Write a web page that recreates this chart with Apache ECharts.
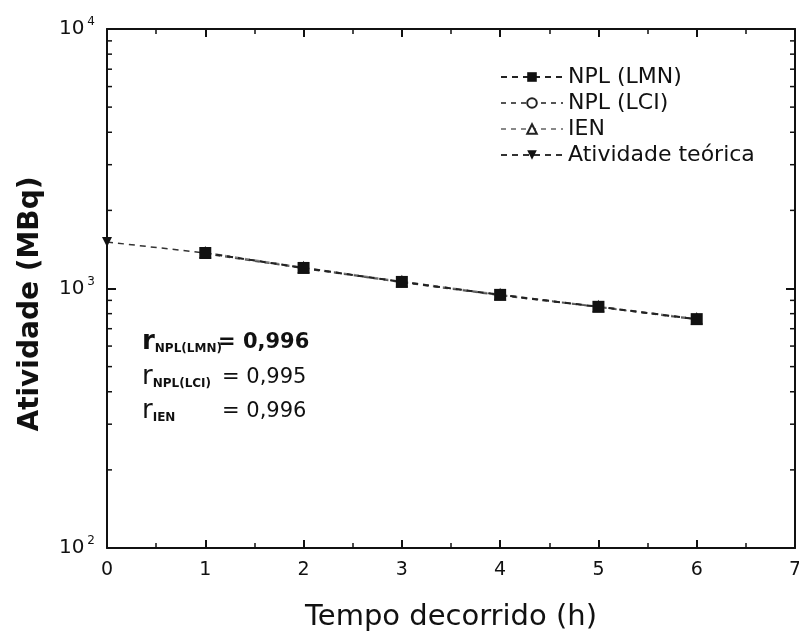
<!DOCTYPE html>
<html><head><meta charset="utf-8">
<script src="https://cdn.jsdelivr.net/npm/echarts@6/dist/echarts.min.js"></script>
<style>html,body{margin:0;padding:0;background:#fff}#c{width:799px;height:635px}</style>
</head><body><div id="c"></div>
<script>
// Data
const hoursMeasured = [1, 2, 3, 4, 5, 6];
const hoursTheory = [0, 1, 2, 3, 4, 5, 6];
const nplLmn = [1370, 1200, 1060, 945, 850, 762];
const nplLci = [1360, 1195, 1055, 940, 848, 758];
const ien = [1375, 1205, 1065, 948, 852, 765];
const theory = [1511, 1370, 1200, 1060, 945, 850, 762];
const xTicks = [0, 1, 2, 3, 4, 5, 6, 7];
const yMinorTicks = [200, 300, 400, 500, 600, 700, 800, 900, 2000, 3000, 4000, 5000, 6000, 7000, 8000, 9000];
const seriesNames = ['NPL (LMN)', 'NPL (LCI)', 'IEN', 'Atividade teórica'];
const rSubs = ['NPL(LMN)', 'NPL(LCI)', 'IEN'];
const rValues = ['0,996', '0,995', '0,996'];

const FONT = 'DejaVu Sans';
const pair = (xs, ys) => xs.map((x, i) => [x, ys[i]]);
const supMap = { 2: '2', 3: '3', 4: '4' };

const chart = echarts.init(document.getElementById('c'));
const axisLine = { show: true, onZero: false, lineStyle: { color: '#111', width: 2 } };
const rowTops = [332, 367, 401];

const option = {
  animation: false,
  backgroundColor: '#fff',
  textStyle: { fontFamily: FONT },
  grid: { left: 107, top: 29, right: 4, bottom: 87, containLabel: false, outerBoundsMode: 'none' },
  legend: {
    orient: 'vertical', left: 495, top: 61, itemWidth: 62, itemHeight: 12, itemGap: 4,
    data: seriesNames,
    textStyle: { fontFamily: FONT, fontSize: 22, color: '#111' }
  },
  xAxis: [
    {
      type: 'value', min: 0, max: 7, interval: 1, position: 'bottom',
      axisLine, splitLine: { show: false },
      axisTick: { inside: true, length: 8, lineStyle: { color: '#111', width: 2 } },
      minorTick: { show: true, splitNumber: 2, length: 5, lineStyle: { color: '#111', width: 1.5 } },
      axisLabel: { margin: 13, fontSize: 19, color: '#111', fontFamily: FONT,
        formatter: v => xTicks.includes(v) ? String(v) : '' },
      name: 'Tempo decorrido (h)', nameLocation: 'middle', nameGap: 55,
      nameTextStyle: { fontSize: 29, color: '#111', fontFamily: FONT }
    },
    {
      type: 'value', min: 0, max: 7, interval: 1, position: 'top',
      axisLine, splitLine: { show: false }, axisLabel: { show: false },
      axisTick: { inside: true, length: 8, lineStyle: { color: '#111', width: 2 } },
      minorTick: { show: true, splitNumber: 2, length: 5, lineStyle: { color: '#111', width: 1.5 } }
    }
  ],
  yAxis: [
    {
      type: 'log', logBase: 10, min: 100, max: 10000, position: 'left',
      axisLine, splitLine: { show: false },
      axisTick: { inside: true, length: 9, lineStyle: { color: '#111', width: 2 } },
      axisLabel: {
        margin: 12, color: '#111', fontFamily: FONT,
        formatter: v => '{b|10}{s|' + supMap[Math.round(Math.log10(v))] + '}',
        rich: { b: { fontSize: 20, color: '#111', fontFamily: FONT },
                s: { fontSize: 12, color: '#111', fontFamily: FONT, verticalAlign: 'top', padding: [0, 0, 14, 3] } }
      }
    },
    {
      type: 'log', logBase: 10, min: 100, max: 10000, position: 'right',
      axisLine, splitLine: { show: false }, axisLabel: { show: false },
      axisTick: { inside: true, length: 9, lineStyle: { color: '#111', width: 2 } }
    }
  ],
  series: [
    {
      type: 'custom', name: 'minorTicks', silent: true, z: 1,
      data: yMinorTicks.map(v => [0, v]),
      encode: { x: 0, y: 1 },
      renderItem: (params, api) => {
        const v = api.value(1);
        const l = api.coord([0, v]);
        const r = api.coord([7, v]);
        const st = { stroke: '#111', lineWidth: 1.5 };
        return { type: 'group', children: [
          { type: 'line', shape: { x1: l[0], y1: l[1], x2: l[0] + 5, y2: l[1] }, style: st },
          { type: 'line', shape: { x1: r[0], y1: r[1], x2: r[0] - 5, y2: r[1] }, style: st }
        ] };
      }
    },
    {
      name: 'Atividade teórica', type: 'line', data: pair(hoursTheory, theory),
      symbol: 'triangle', symbolRotate: 180, symbolSize: 10, showSymbol: true,
      itemStyle: { color: '#111' }, lineStyle: { color: '#333', width: 1.5, type: [6, 5] }, z: 2
    },
    {
      name: 'IEN', type: 'line', data: pair(hoursMeasured, ien),
      symbol: 'triangle', symbolSize: 10,
      itemStyle: { color: '#fff', borderColor: '#222', borderWidth: 1.5 },
      lineStyle: { color: '#888', width: 1.5, type: [5, 5] }, z: 3
    },
    {
      name: 'NPL (LCI)', type: 'line', data: pair(hoursMeasured, nplLci),
      symbol: 'circle', symbolSize: 8,
      itemStyle: { color: '#fff', borderColor: '#222', borderWidth: 1.5 },
      lineStyle: { color: '#555', width: 1.5, type: [5, 5] }, z: 4
    },
    {
      name: 'NPL (LMN)', type: 'line', data: pair(hoursMeasured, nplLmn),
      symbol: 'rect', symbolSize: 12,
      itemStyle: { color: '#111' }, lineStyle: { color: '#222', width: 2, type: [6, 5] }, z: 5
    }
  ],
  graphic: [].concat(
    [{
      type: 'text', x: 31, y: 304, rotation: Math.PI / 2, z: 10,
      style: { text: 'Atividade (MBq)', fontSize: 28, fontWeight: 'bold', fontFamily: FONT, fill: '#111',
               align: 'center', verticalAlign: 'middle' }
    }],
    rSubs.map((s, i) => ({
      type: 'text', left: 142, top: rowTops[i] - 3, z: 10,
      style: {
        text: '{r|r}{sub|' + s + '}',
        rich: {
          r: { fontSize: 26, fontFamily: FONT, fill: '#111', fontWeight: i === 0 ? 'bold' : 'normal' },
          sub: { fontSize: 12, fontFamily: FONT, fill: '#111', fontWeight: 'bold', verticalAlign: 'bottom', padding: [12, 0, 0, 0] }
        }
      }
    })),
    rValues.map((v, i) => ({
      type: 'text', left: i === 0 ? 218 : 222, top: rowTops[i], z: 10,
      style: { text: '= ' + v, fontSize: 21, fontFamily: FONT, fill: '#111', fontWeight: i === 0 ? 'bold' : 'normal' }
    }))
  )
};
chart.setOption(option);
</script></body></html>
